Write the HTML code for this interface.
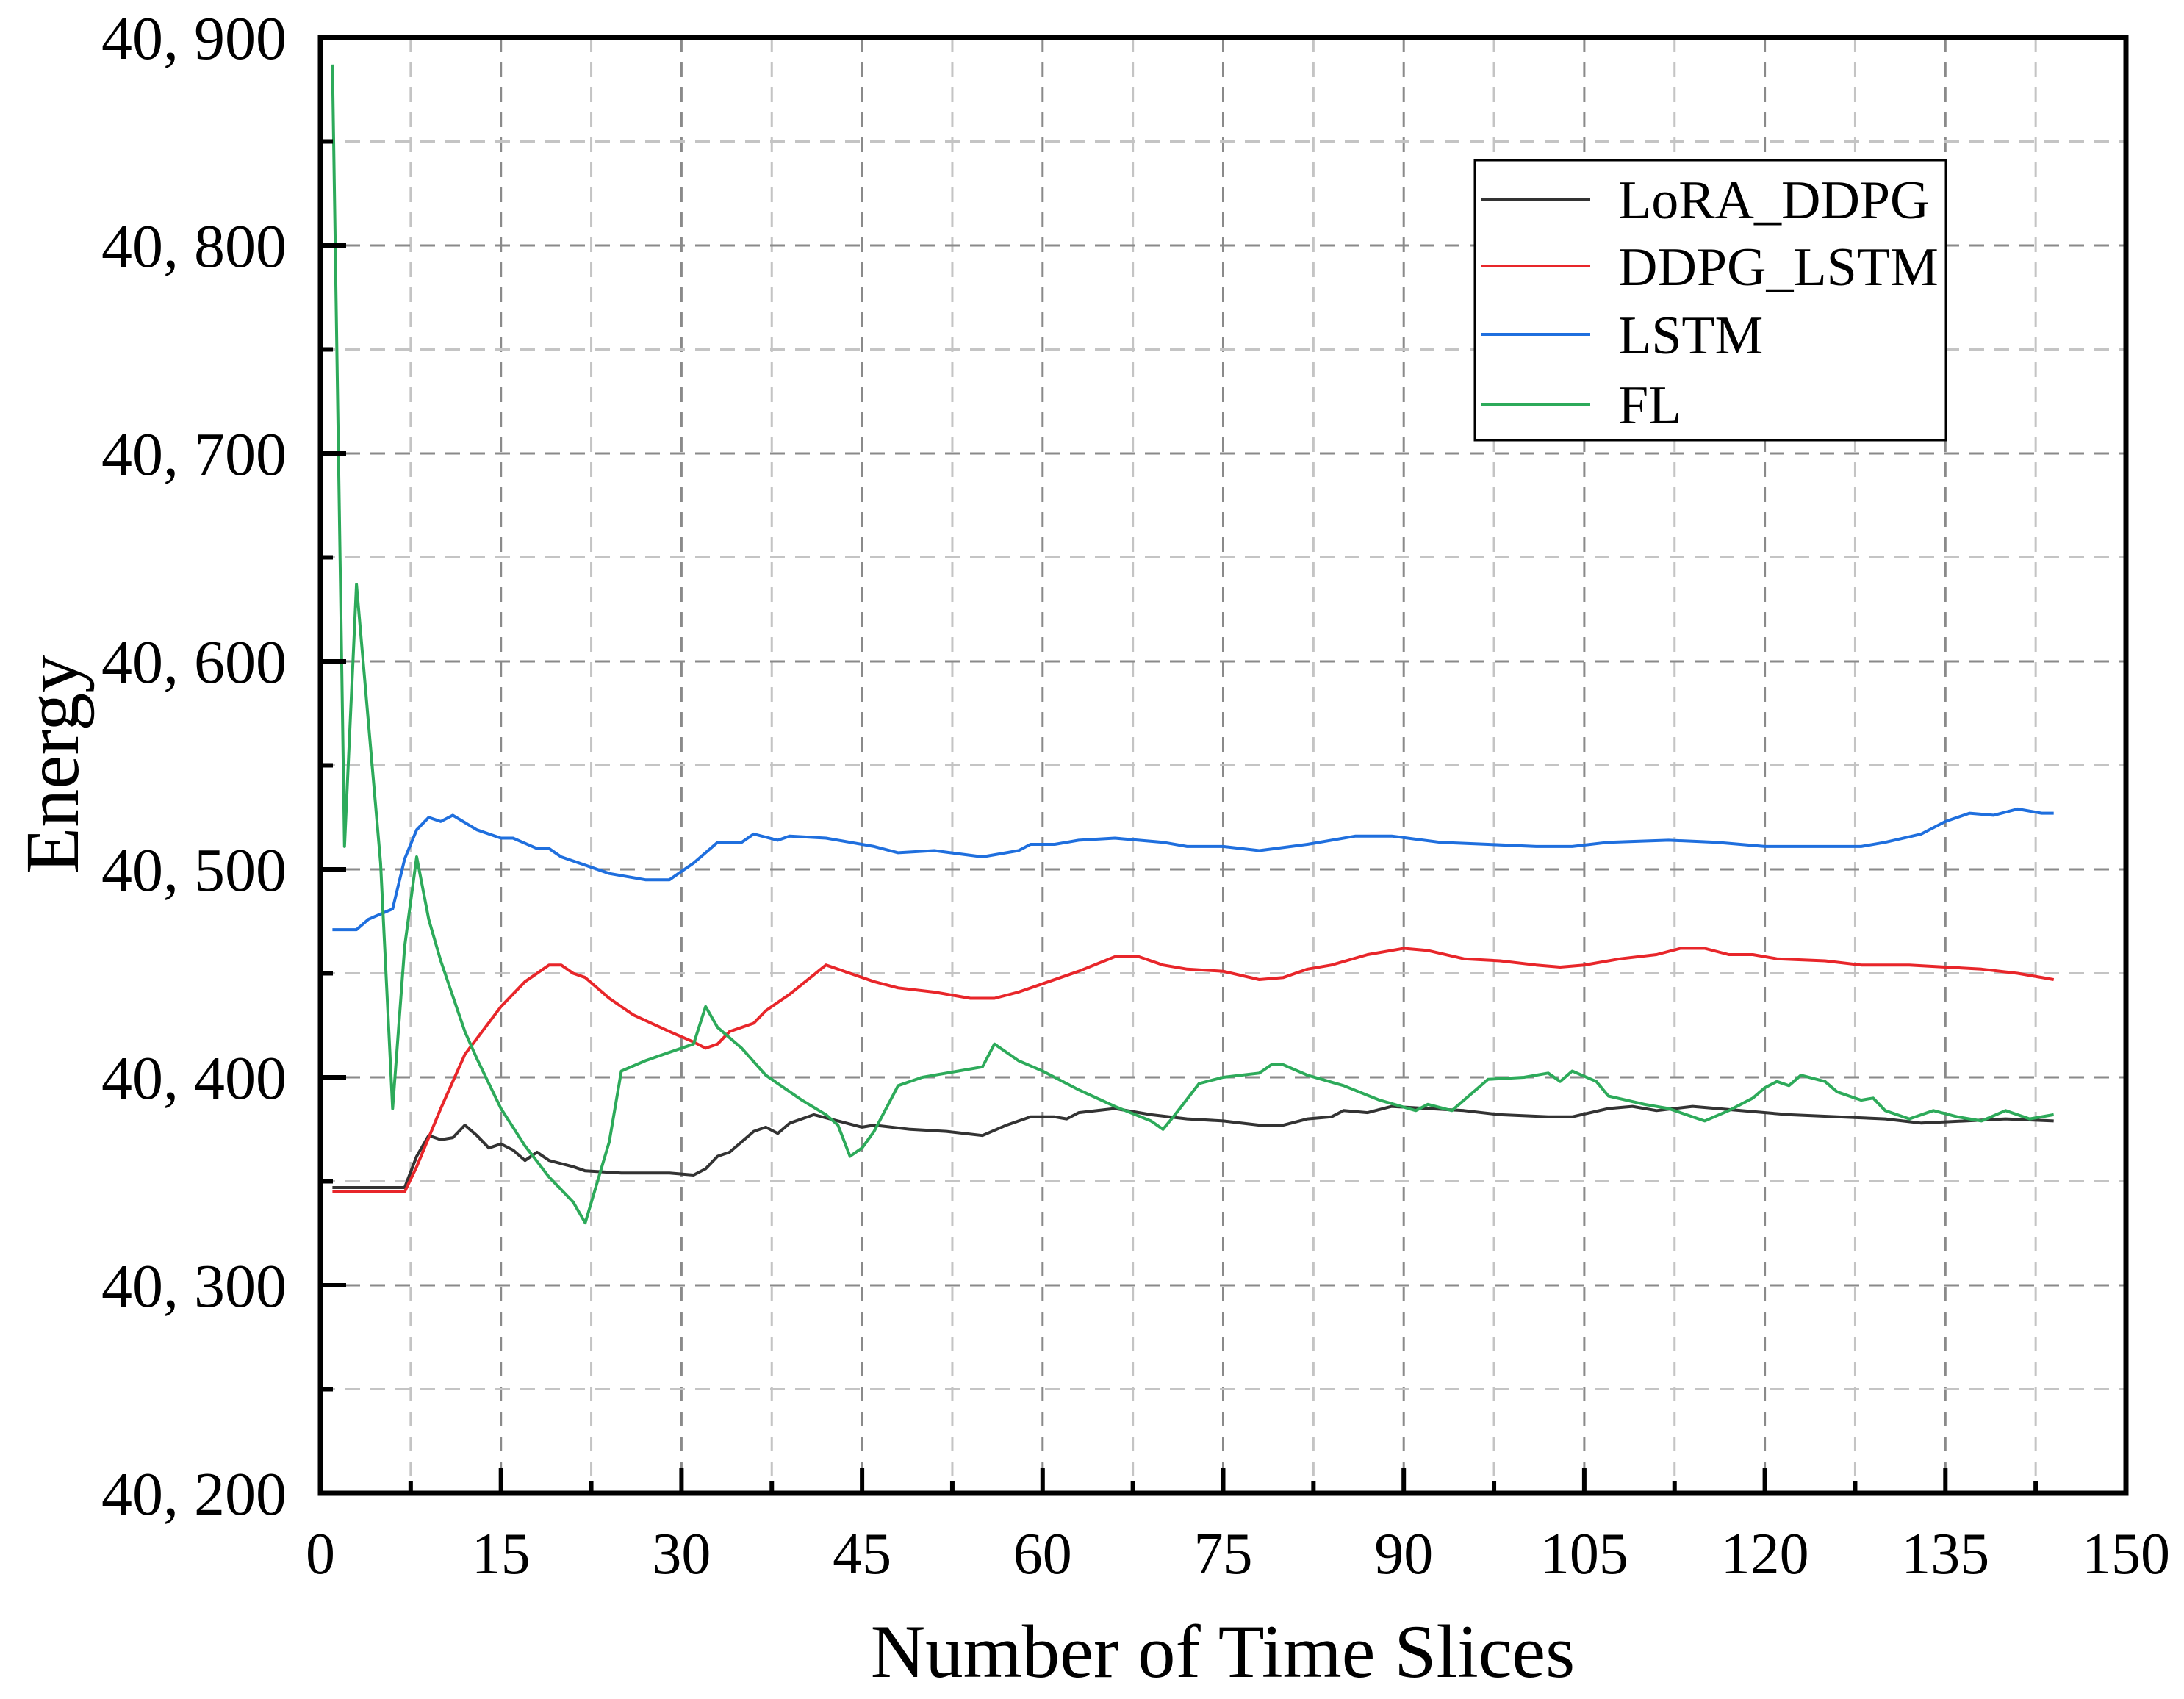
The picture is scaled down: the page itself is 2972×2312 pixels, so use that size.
<!DOCTYPE html>
<html><head><meta charset="utf-8"><style>
html,body{margin:0;padding:0;background:#fff;}
svg{display:block;font-family:"Liberation Serif",serif;}
</style></head>
<body>
<svg id="chart" width="2972" height="2312" viewBox="0 0 2972 2312" xmlns="http://www.w3.org/2000/svg">
<rect width="2972" height="2312" fill="#fff"/>
<g id="grid"></g>
<g id="series"></g>
<g id="axes"></g>
<text x="1664" y="2282" font-size="103" text-anchor="middle">Number of Time Slices</text>
<text transform="translate(106,1040) rotate(-90)" font-size="104" text-anchor="middle">Energy</text>
<g>
<rect x="2007" y="218" width="641" height="381" fill="#fff" stroke="#000" stroke-width="3"/>
</g>
<g id="legend-entries"></g>
</svg>
<script>
const xTicks = [0,15,30,45,60,75,90,105,120,135,150];
const yTicks = [40200,40300,40400,40500,40600,40700,40800,40900];
const yTickLabels = ["40, 200","40, 300","40, 400","40, 500","40, 600","40, 700","40, 800","40, 900"];
const seriesNames = ["LoRA_DDPG","DDPG_LSTM","LSTM","FL"];
const seriesColors = ["#333333","#e8262a","#1f6fde","#2daa5a"];

const loraX = [1,7,8,9,10,11,12,13,14,15,16,17,18,19,21,22,25,29,31,32,33,34,36,37,38,39,41,43,45,46,49,52,55,57,59,61,62,63,66,69,72,75,78,80,82,84,85,87,89,92,95,98,102,104,107,109,111,114,118,122,126,130,133,140,144];
const loraY = [347,347,362,372,370,371,377,372,366,368,365,360,364,360,357,355,354,354,353,356,362,364,374,376,373,378,382,379,376,377,375,374,372,377,381,381,380,383,385,382,380,379,377,377,380,381,384,383,386,385,384,382,381,381,385,386,384,386,384,382,381,380,378,380,379];

const ddpgX = [1,7,8,10,12,15,17,19,20,21,22,24,26,29,31,32,33,34,36,37,39,42,43,44,46,48,51,54,56,58,60,63,66,68,70,72,75,78,80,82,84,87,90,92,95,98,101,103,105,108,111,113,115,117,119,121,125,128,132,135,138,141,144];
const ddpgY = [345,345,357,385,411,434,446,454,454,450,448,438,430,422,417,414,416,422,426,432,440,454,452,450,446,443,441,438,438,441,445,451,458,458,454,452,451,447,448,452,454,459,462,461,457,456,454,453,454,457,459,462,462,459,459,457,456,454,454,453,452,450,447];

const lstmX = [1,3,4,6,7,8,9,10,11,13,15,16,18,19,20,22,24,27,29,31,33,35,36,38,39,42,44,46,48,51,55,58,59,61,63,66,70,72,75,78,82,86,89,93,97,101,104,107,112,116,120,124,128,130,133,135,137,139,141,143,144];
const lstmY = [471,471,476,481,505,519,525,523,526,519,515,515,510,510,506,502,498,495,495,503,513,513,517,514,516,515,513,511,508,509,506,509,512,512,514,515,513,511,511,509,512,516,516,513,512,511,511,513,514,513,511,511,511,513,517,523,527,526,529,527,527];

const flX = [1,2,3,4,5,6,7,8,9,10,11,12,13,15,17,19,21,22,24,25,27,29,31,32,33,35,37,40,42,43,44,45,46,48,50,53,55,56,58,60,63,66,69,70,71,73,75,78,79,80,82,85,88,91,92,94,96,97,100,102,103,104,106,107,110,112,114,115,117,119,120,121,122,123,125,126,128,129,130,132,134,136,138,140,142,144];
const flY = [887,511,637,570,503,385,463,506,476,456,439,422,409,385,367,352,340,330,369,403,408,412,416,434,424,414,401,389,382,377,362,366,374,396,400,403,405,416,408,403,394,386,379,375,382,397,400,402,406,406,401,396,389,384,387,384,394,399,400,402,398,403,398,391,387,385,381,379,384,390,395,398,396,401,398,393,389,390,384,380,384,381,379,384,380,382];

const NS = "http://www.w3.org/2000/svg";
const L = 436, R = 2893, T = 51, B = 2032;
const xMin = 0, xMax = 150, yMin = 40200, yMax = 40900;
function sx(v){ return L + (v - xMin) / (xMax - xMin) * (R - L); }
function sy(v){ return B - (v - yMin) / (yMax - yMin) * (B - T); }
function mk(tag, attrs, parent){
  const e = document.createElementNS(NS, tag);
  for (const k in attrs) e.setAttribute(k, attrs[k]);
  parent.appendChild(e);
  return e;
}
const grid = document.getElementById('grid');
const axes = document.getElementById('axes');
const series = document.getElementById('series');

for (let i = 0; i < xTicks.length - 1; i++) {
  const v = xTicks[i], m = (xTicks[i] + xTicks[i+1]) / 2;
  if (i > 0) {
    const g = mk('line', {x1:sx(v), x2:sx(v), y1:T, y2:B, stroke:'#8a8a8a', 'stroke-width':3, 'stroke-dasharray':'20 14'}, grid);
    
    
  }
  const g2 = mk('line', {x1:sx(m), x2:sx(m), y1:T, y2:B, stroke:'#c4c4c4', 'stroke-width':3, 'stroke-dasharray':'20 14'}, grid);
  
  
}
for (let i = 0; i < yTicks.length - 1; i++) {
  const v = yTicks[i], m = (yTicks[i] + yTicks[i+1]) / 2;
  if (i > 0) {
    const g = mk('line', {x1:L, x2:R, y1:sy(v), y2:sy(v), stroke:'#8a8a8a', 'stroke-width':3, 'stroke-dasharray':'20 14'}, grid);
    
    
  }
  const g2 = mk('line', {x1:L, x2:R, y1:sy(m), y2:sy(m), stroke:'#c4c4c4', 'stroke-width':3, 'stroke-dasharray':'20 14'}, grid);
  
  
}

const allX = [loraX, ddpgX, lstmX, flX];
const allY = [loraY, ddpgY, lstmY, flY];
for (let s = 0; s < 4; s++) {
  const pts = allX[s].map((x, i) => sx(x).toFixed(1) + ',' + sy(40000 + allY[s][i]).toFixed(1)).join(' ');
  const pl = mk('polyline', {points: pts, fill:'none', stroke: seriesColors[s], 'stroke-width':4, 'stroke-linejoin':'round'}, series);
  
  
}

const fr = mk('rect', {x:L, y:T, width:R-L, height:B-T, fill:'none', stroke:'#000', 'stroke-width':7}, axes);



for (let i = 0; i < xTicks.length; i++) {
  const v = xTicks[i];
  const t = mk('line', {x1:sx(v), x2:sx(v), y1:B, y2:B-35, stroke:'#000', 'stroke-width':6}, axes);
  
  
  if (i < xTicks.length - 1) {
    const m = (v + xTicks[i+1]) / 2;
    const t2 = mk('line', {x1:sx(m), x2:sx(m), y1:B, y2:B-17, stroke:'#000', 'stroke-width':6}, axes);
    
    
  }
  const lb = mk('text', {x:sx(v), y:2141, 'font-size':80, 'text-anchor':'middle'}, axes);
  lb.textContent = String(v);
  
  
}
for (let i = 0; i < yTicks.length; i++) {
  const v = yTicks[i];
  const t = mk('line', {x1:L, x2:L+35, y1:sy(v), y2:sy(v), stroke:'#000', 'stroke-width':6}, axes);
  
  
  if (i < yTicks.length - 1) {
    const m = (v + yTicks[i+1]) / 2;
    const t2 = mk('line', {x1:L, x2:L+17, y1:sy(m), y2:sy(m), stroke:'#000', 'stroke-width':6}, axes);
    
    
  }
  const lb = mk('text', {x:390, y:sy(v)+29, 'font-size':84, 'text-anchor':'end'}, axes);
  lb.textContent = yTickLabels[i];
  
  
}

const leg = document.getElementById('legend-entries');
const legY = [271, 362, 455, 550];
for (let s = 0; s < 4; s++) {
  const ln = mk('line', {x1:2015, x2:2164, y1:legY[s], y2:legY[s], stroke:seriesColors[s], 'stroke-width':4}, leg);
  
  
  const tx = mk('text', {x:2202, y:legY[s]+26, 'font-size':74}, leg);
  tx.textContent = seriesNames[s];
  
  
}
</script>
</body></html>
